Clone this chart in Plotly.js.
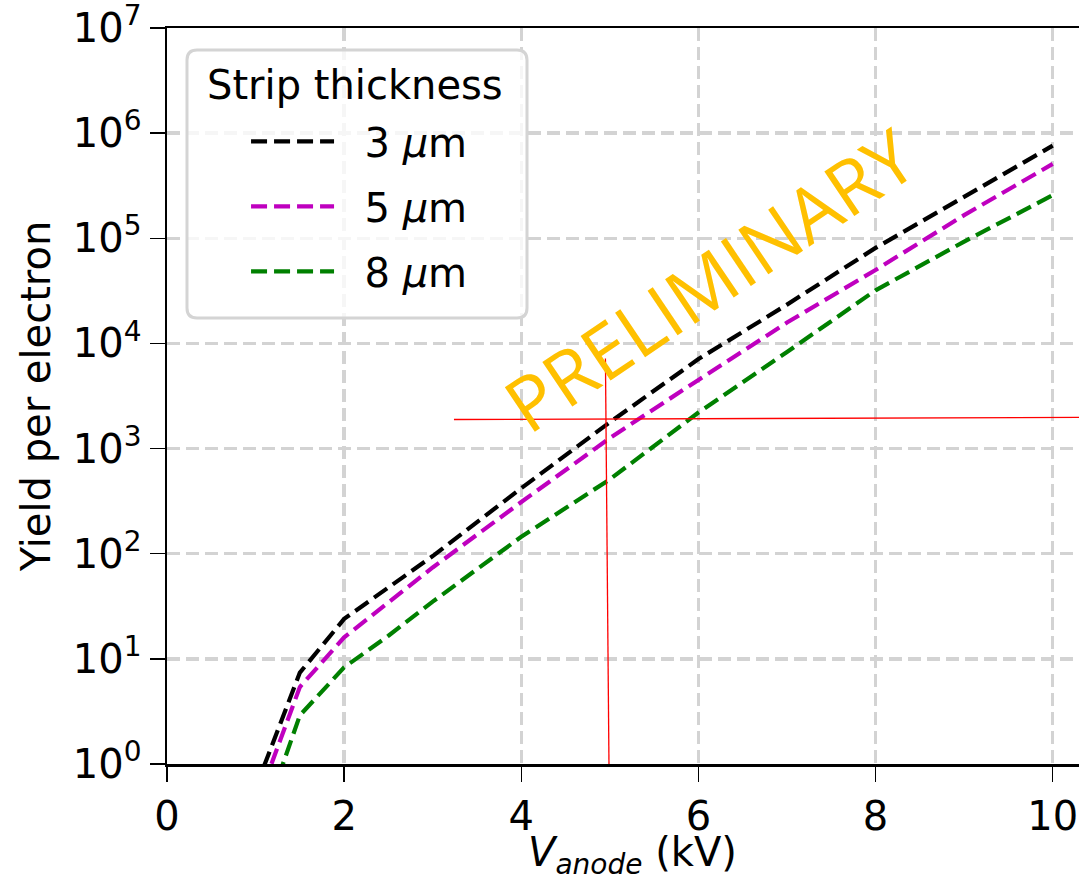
<!DOCTYPE html>
<html>
<head>
<meta charset="utf-8">
<script src="https://cdn.plot.ly/plotly-3.0.1.min.js"></script>
<style>
  html, body { margin: 0; padding: 0; overflow: hidden; background: #ffffff; }
  #chart { width: 1100px; height: 876px; }
</style>
</head>
<body>
<div id="chart"></div>
<script>
// Anode voltage (kV) and simulated yield per primary electron for each strip thickness
const voltage  = [1.0, 1.5, 2.0, 2.5, 3.0, 4.0, 5.0, 6.0, 7.0, 8.0, 9.0, 10.0];
const yield3um = [0.59, 7.4, 24, 48, 95, 420, 1780, 7100, 23400, 81000, 250000, 760000];
const yield5um = [0.39, 5.4, 16, 34, 74, 310, 1260, 4500, 15800, 50000, 166000, 510000];
const yield8um = [0.18, 2.9, 8.3, 16.6, 35, 145, 510, 2200, 8300, 32000, 93000, 257000];

const seriesNames  = ['\u00a0\u00a03 <i>µ</i>m', '\u00a0\u00a05 <i>µ</i>m', '\u00a0\u00a08 <i>µ</i>m'];
const seriesColors = ['#000000', '#bf00bf', '#008000'];

// Red guide lines marking the working point
const guideVx = [4.99, 4.95];
const guideVy = [1, 7200];
const guideHx = [3.24, 10.5];
const guideHy = [1890, 1980];

// Axis ticks
const xTickVals = [0, 2, 4, 6, 8, 10];
const yTickVals = [1, 10, 100, 1000, 1e4, 1e5, 1e6, 1e7];
const yTickText = ['10<sup>0</sup>', '10<sup>1</sup>', '10<sup>2</sup>', '10<sup>3</sup>',
                   '10<sup>4</sup>', '10<sup>5</sup>', '10<sup>6</sup>', '10<sup>7</sup>'];

const FONT = 'DejaVu Sans, Verdana, sans-serif';
const yields = [yield3um, yield5um, yield8um];

const traces = yields.map((ys, i) => ({
  type: 'scatter',
  mode: 'lines',
  x: voltage,
  y: ys,
  name: seriesNames[i],
  legendgroup: 'g' + i,
  line: { color: seriesColors[i], width: 4.2, dash: '16px,7px' }
}));

traces.push({
  type: 'scatter', mode: 'lines', x: guideVx, y: guideVy,
  line: { color: '#ff0000', width: 1.3 }, showlegend: false, hoverinfo: 'skip'
});
traces.push({
  type: 'scatter', mode: 'lines', x: guideHx, y: guideHy,
  line: { color: '#ff0000', width: 1.3 }, showlegend: false, hoverinfo: 'skip'
});

// Rounded legend frame (paper coordinates)
const fx0 = 0.0215, fx1 = 0.3871, fy0 = 0.606, fy1 = 0.970, rx = 0.0108, ry = 0.0136;
const framePath =
  `M ${fx0 + rx},${fy1} L ${fx1 - rx},${fy1} Q ${fx1},${fy1} ${fx1},${fy1 - ry} ` +
  `L ${fx1},${fy0 + ry} Q ${fx1},${fy0} ${fx1 - rx},${fy0} ` +
  `L ${fx0 + rx},${fy0} Q ${fx0},${fy0} ${fx0},${fy0 + ry} ` +
  `L ${fx0},${fy1 - ry} Q ${fx0},${fy1} ${fx0 + rx},${fy1} Z`;

const layout = {
  width: 1100,
  height: 876,
  margin: { l: 167, r: 3, t: 28, b: 112 },
  paper_bgcolor: '#ffffff',
  plot_bgcolor: '#ffffff',
  font: { family: FONT, size: 40, color: '#000000' },
  showlegend: true,
  legend: {
    x: 0.085, xanchor: 'left',
    y: 0.89, yanchor: 'top',
    bgcolor: 'rgba(0,0,0,0)',
    borderwidth: 0,
    font: { family: FONT, size: 40, color: '#000000' },
    itemwidth: 83,
    tracegroupgap: 10
  },
  xaxis: {
    range: [0, 10.5],
    tickvals: xTickVals,
    ticks: 'outside', ticklen: 15, tickwidth: 1.3, tickcolor: '#000000',
    showline: true, linecolor: '#000000', linewidth: 2.5, mirror: true,
    showgrid: true, gridcolor: '#d3d3d3', gridwidth: 3.5, griddash: '13px,6px',
    zeroline: false,
    ticklabeloverflow: 'allow',
    tickfont: { family: FONT, size: 40 }
  },
  yaxis: {
    type: 'log',
    range: [0, 7],
    tickvals: yTickVals,
    ticktext: yTickText,
    ticks: 'outside', ticklen: 15, tickwidth: 1.3, tickcolor: '#000000',
    showline: true, linecolor: '#000000', linewidth: 2.5, mirror: true,
    showgrid: true, gridcolor: '#d3d3d3', gridwidth: 3.5, griddash: '13px,6px',
    zeroline: false,
    ticklabeloverflow: 'allow',
    tickfont: { family: FONT, size: 40 },
    title: { text: 'Yield per electron', font: { family: FONT, size: 40 }, standoff: 10 }
  },
  shapes: [{
    type: 'path', xref: 'paper', yref: 'paper', path: framePath,
    fillcolor: 'rgba(255,255,255,0.8)', line: { color: '#d4d4d4', width: 3 }, layer: 'above'
  }],
  annotations: [
    {
      // x-axis label
      xref: 'paper', yref: 'paper', x: 0.5, y: -0.1236,
      xanchor: 'center', yanchor: 'middle', showarrow: false,
      text: '<i>V</i><sub><i>anode</i></sub> (kV)', font: { family: FONT, size: 40, color: '#000000' }
    },
    {
      xref: 'paper', yref: 'paper', x: 0.0405, y: 0.956,
      xanchor: 'left', yanchor: 'top', showarrow: false,
      text: 'Strip thickness', font: { family: FONT, size: 40, color: '#000000' }
    },
    {
      xref: 'paper', yref: 'paper', x: 0.583, y: 0.659,
      xanchor: 'center', yanchor: 'middle', showarrow: false, textangle: -34,
      text: 'PRELIMINARY', font: { family: 'Open Sans, sans-serif', size: 75, color: '#ffc000' }
    }
  ]
};

Plotly.newPlot('chart', traces, layout, { displayModeBar: false, staticPlot: true });
</script>
</body>
</html>
